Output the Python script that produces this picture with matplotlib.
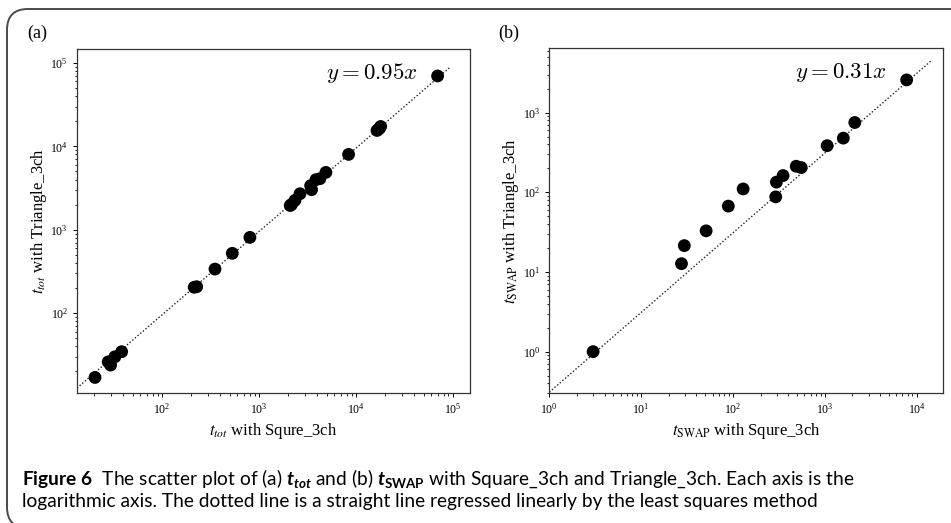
import matplotlib
matplotlib.use("Agg")
import matplotlib.pyplot as plt
from matplotlib.patches import FancyBboxPatch
import numpy as np

# ---------------- data ----------------
# (a) t_tot
tot_square = [20.4, 27.9, 29.5, 32.7, 38.4, 215, 228, 352, 531, 807,
              2100, 2170, 2350, 2650, 3410, 3490, 3870, 4250, 4900, 8400,
              16500, 17400, 18000, 69500]
tot_triangle = [16.9, 26.0, 23.8, 29.9, 34.4, 204, 207, 337, 521, 809,
                1950, 2010, 2250, 2700, 3370, 3020, 3980, 4090, 4870, 8000,
                15500, 16300, 17300, 69800]
tot_slope = 0.95
tot_fit_range = [13.3, 95000]

# (b) t_SWAP
swap_square = [3.0, 27.5, 29.5, 51, 89, 129, 292, 297, 351, 488, 553,
               1060, 1590, 2120, 7780]
swap_triangle = [1.0, 12.7, 21.4, 32.8, 67, 110, 87.5, 134, 162, 212, 204,
                 384, 478, 750, 2570]
swap_slope = 0.31
swap_fit_range = [1.0, 14400]

caption_line1 = (r"$\mathbf{Figure\ 6}$  The scatter plot of (a) $t_{tot}$ and (b) "
                 r"$t_{\mathbf{SWAP}}$ with Square_3ch and Triangle_3ch. Each axis is the")
caption_line2 = ("logarithmic axis. The dotted line is a straight line regressed "
                 "linearly by the least squares method")

# ---------------- style ----------------
plt.rcParams['font.family'] = ['Liberation Serif', 'DejaVu Serif']
plt.rcParams['mathtext.fontset'] = 'stix'
plt.rcParams['mathtext.rm'] = 'Lato'
plt.rcParams['mathtext.it'] = 'Lato:italic:bold'
plt.rcParams['mathtext.bf'] = 'Lato:bold'
plt.rcParams['axes.linewidth'] = 0.9
plt.rcParams['axes.edgecolor'] = '#333333'

W, H = 951, 523
fig = plt.figure(figsize=(W / 100, H / 100), dpi=100)


def ax_rect(l, t, r, b):
    return [l / W, 1 - b / H, (r - l) / W, (b - t) / H]


ax1 = fig.add_axes(ax_rect(77, 49, 470, 393))
ax2 = fig.add_axes(ax_rect(549.3, 48, 943.3, 393.3))

panels = [
    (ax1, tot_square, tot_triangle, tot_slope, tot_fit_range,
     (13.3, 1.5e5), (11, 1.47e5), r"$t_{tot}$", 0.868),
    (ax2, swap_square, swap_triangle, swap_slope, swap_fit_range,
     (1, 19500), (0.30, 6460), r"$t_{\mathrm{SWAP}}$", 0.857),
]

for ax, xs, ys, k, fr, xl, yl, sym, tx in panels:
    fx = np.array(fr)
    ax.plot(fx, k * fx, linestyle=(0, (1, 1.5)), color='#222222', lw=1.0, zorder=1)
    ax.scatter(xs, ys, s=85, color='black', zorder=2, edgecolors='none')
    ax.set_xscale('log')
    ax.set_yscale('log')
    ax.set_xlim(*xl)
    ax.set_ylim(*yl)
    ax.tick_params(which='major', labelsize=8.5, length=3, width=0.7)
    ax.tick_params(which='minor', length=1.8, width=0.6)
    ax.set_xlabel(sym + " with Squre_3ch", fontsize=12, labelpad=3)
    ax.set_ylabel(sym + " with Triangle_3ch", fontsize=12, labelpad=1)
    ax.text(tx, 0.93, r"$y = %.2fx$" % k, transform=ax.transAxes,
            ha='right', va='center', fontsize=16.5, math_fontfamily='cm')

fig.text(37 / W, 1 - 33 / H, "(a)", fontsize=13, ha='center', va='center')
fig.text(509 / W, 1 - 33 / H, "(b)", fontsize=13, ha='center', va='center')

# frame
frame = FancyBboxPatch((7 / W, 1 - 528 / H), (980 - 7) / W, (528 - 9) / H,
                       boxstyle="round,pad=0,rounding_size=0.022",
                       transform=fig.transFigure, fill=False,
                       edgecolor='#4a4a4a', lw=1.4, mutation_aspect=W / H)
fig.patches.append(frame)

fig.text(22 / W, 1 - 479 / H, caption_line1, fontsize=13.8, ha='left', va='center',
         family=['Lato', 'DejaVu Sans'], math_fontfamily='custom')
fig.text(22 / W, 1 - 501 / H, caption_line2, fontsize=13.8, ha='left', va='center',
         family=['Lato', 'DejaVu Sans'])

fig.savefig("out.png", dpi=100)
